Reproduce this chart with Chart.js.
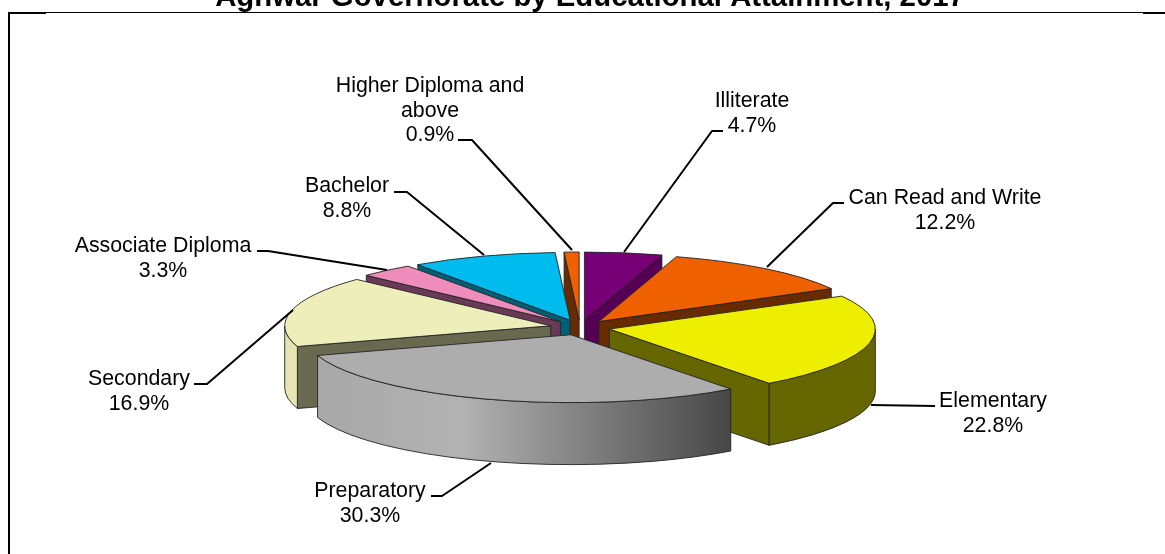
<!DOCTYPE html>
<html>
<head>
<meta charset="utf-8">
<style>
html,body{margin:0;padding:0;background:#fff;overflow:hidden}
canvas{display:block}
</style>
<script src="https://cdn.jsdelivr.net/npm/chart.js@4"></script>
</head>
<body>
<canvas id="c" width="1165" height="554"></canvas>
<script>
const titleText = "Aghwar Governorate by Educational Attainment, 2017";
const categories = ["Illiterate","Can Read and Write","Elementary","Preparatory","Secondary","Associate Diploma","Bachelor","Higher Diploma and above"];
const values = [4.7,12.2,22.8,30.3,16.9,3.3,8.8,0.9];
const topColors = ["#770077","#EE6000","#EEEE00","#ADADAD","#EEEEBB","#EE8CBB","#00BBEE","#EE6000"];
const sideColors = ["#550055","#662B00","#666600","#777777","#69694F","#693A55","#005E75","#662B00"];
const rimColors = ["#660066","#772F00","#666600",null,"#E6E4B2","#D07AA5","#00A0CC","#772F00"];

// Presentation of the pseudo-3D pie
const TILT = 0.255, DEPTH = 62, RADIUS = 266, EXPLODE = 30;
const paintOrder = [0,7,6,5,1,4,2,3];
const LINE_H = 24.6;
const labelBoxes = [
  {cx:752,y:107,lines:["Illiterate"],lead:[[723,131],[712,131],[624,252]]},
  {cx:945,y:204,lines:["Can Read and Write"],lead:[[844,203],[833,203],[767,267]]},
  {cx:993,y:407,lines:["Elementary"],lead:[[935,406],[871,405]]},
  {cx:370,y:497,lines:["Preparatory"],lead:[[431,496],[442,496],[491,463]]},
  {cx:139,y:385,lines:["Secondary"],lead:[[194,384],[207,384],[293,310]]},
  {cx:163,y:252,lines:["Associate Diploma"],lead:[[257,251],[268,251],[387,270]]},
  {cx:347,y:192,lines:["Bachelor"],lead:[[394,192],[407,192],[484,255]]},
  {cx:430,y:92,lines:["Higher Diploma and","above"],lead:[[458,140],[472,140],[572,250]]}
];

const pie3d = {
  id:'pie3d',
  beforeDatasetsDraw(chart){
    const ctx = chart.ctx;
    const arcs = chart.getDatasetMeta(0).data;
    const stroke = 'rgba(35,35,35,0.9)';
    // frame
    ctx.save();
    ctx.strokeStyle='#000';
    ctx.lineWidth=1;
    ctx.beginPath();ctx.moveTo(8,12.5);ctx.lineTo(1165,12.5);ctx.stroke();
    ctx.lineWidth=2;
    ctx.beginPath();ctx.moveTo(9,554);ctx.lineTo(9,13);ctx.lineTo(46,13);ctx.stroke();
    ctx.beginPath();ctx.moveTo(1143,13);ctx.lineTo(1165,13);ctx.stroke();
    ctx.restore();

    paintOrder.forEach(i=>{
      const el = arcs[i];
      const p = el.getProps(['x','y','startAngle','endAngle','outerRadius']);
      const off = el.options.offset;
      const a0 = p.startAngle, a1 = p.endAngle, mid=(a0+a1)/2;
      const ax = p.x + Math.cos(mid)*off;
      const cy = p.y;
      const ay = cy + Math.sin(mid)*off*TILT;
      const rx = p.outerRadius, ry = p.outerRadius*TILT;
      const px = a=>ax+Math.cos(a)*rx, py = a=>ay+Math.sin(a)*ry;
      ctx.save();
      ctx.lineWidth=1;
      ctx.lineJoin='round';
      ctx.strokeStyle=stroke;
      const quad=(a)=>{
        ctx.beginPath();
        ctx.moveTo(ax,ay);ctx.lineTo(px(a),py(a));
        ctx.lineTo(px(a),py(a)+DEPTH);ctx.lineTo(ax,ay+DEPTH);ctx.closePath();
        ctx.fillStyle=sideColors[i];ctx.fill();ctx.stroke();
      };
      if(-Math.cos(a0)>0) quad(a0);
      if(Math.cos(a1)>0) quad(a1);
      // rim
      const r0=Math.max(a0,0), r1=Math.min(a1,Math.PI);
      if(r1>r0){
        ctx.beginPath();
        ctx.ellipse(ax,ay,rx,ry,0,r0,r1);
        ctx.ellipse(ax,ay+DEPTH,rx,ry,0,r1,r0,true);
        ctx.closePath();
        if(rimColors[i]){ctx.fillStyle=rimColors[i];}
        else{
          const g=ctx.createLinearGradient(317,0,732,0);
          g.addColorStop(0,'#A8A8A8');g.addColorStop(0.35,'#B2B2B2');g.addColorStop(1,'#464646');
          ctx.fillStyle=g;
        }
        ctx.fill();ctx.stroke();
      }
      // top face
      ctx.beginPath();
      ctx.moveTo(ax,ay);
      ctx.ellipse(ax,ay,rx,ry,0,a0,a1);
      ctx.closePath();
      ctx.fillStyle=el.options.backgroundColor;
      ctx.fill();ctx.stroke();
      ctx.restore();
    });

    // title and labels
    ctx.save();
    ctx.fillStyle='#000';
    ctx.textBaseline='alphabetic';
    ctx.textAlign='center';
    ctx.font='bold 29.33px "Liberation Sans", Arial, sans-serif';
    ctx.fillText(titleText,590,6);
    ctx.font='21.33px "Liberation Sans", Arial, sans-serif';
    labelBoxes.forEach((b,i)=>{
      const ls=[...b.lines, values[i].toFixed(1)+'%'];
      ls.forEach((t,k)=>ctx.fillText(t,b.cx,b.y+k*LINE_H));
      ctx.save();
      ctx.strokeStyle='#000';ctx.lineWidth=2;ctx.lineJoin='round';
      ctx.beginPath();
      b.lead.forEach((pt,k)=>k?ctx.lineTo(pt[0],pt[1]):ctx.moveTo(pt[0],pt[1]));
      ctx.stroke();
      ctx.restore();
    });
    ctx.restore();
    return false;
  }
};

new Chart(document.getElementById('c'),{
  type:'pie',
  data:{labels:categories,datasets:[{data:values,backgroundColor:topColors,offset:EXPLODE,borderWidth:0}]},
  options:{
    responsive:false,animation:false,events:[],
    radius:RADIUS,
    layout:{padding:{left:0,right:5,top:101,bottom:0}},
    plugins:{legend:{display:false},tooltip:{enabled:false},title:{display:false}}
  },
  plugins:[pie3d]
});
</script>
</body>
</html>
